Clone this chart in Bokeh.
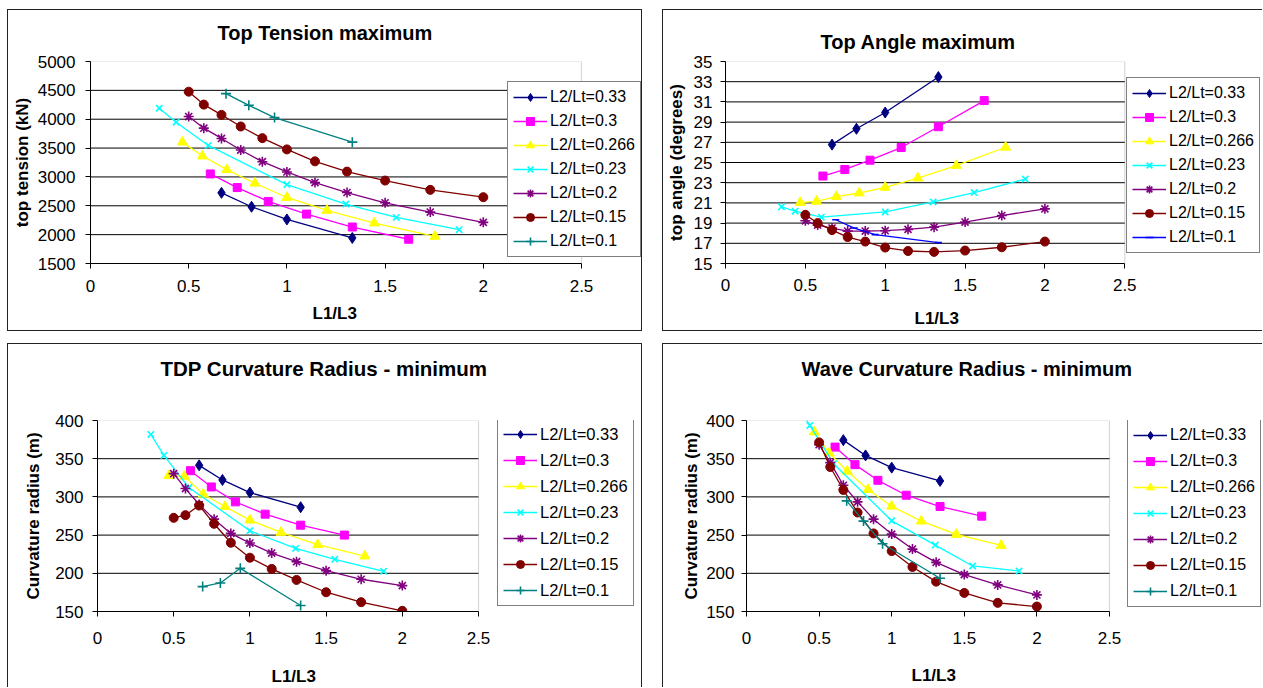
from bokeh.plotting import figure
from bokeh.layouts import row, column
from bokeh.models import (Legend, LegendItem, FixedTicker, NumeralTickFormatter,
                          Range1d, Title, Spacer, BoxAnnotation)
from bokeh.embed import file_html
from bokeh.resources import INLINE

FONT = "Liberation Sans"

# ---------------- data ----------------
series_labels = ["L2/Lt=0.33", "L2/Lt=0.3", "L2/Lt=0.266", "L2/Lt=0.23",
                 "L2/Lt=0.2", "L2/Lt=0.15", "L2/Lt=0.1"]

# L1/L3 values per series
x_033 = [0.667, 0.82, 1.0, 1.333]
x_03 = [0.61, 0.747, 0.905, 1.1, 1.333, 1.62]
x_0266 = [0.468, 0.57, 0.694, 0.837, 1.0, 1.204, 1.445, 1.754]
x_023 = [0.35, 0.436, 0.6, 1.0, 1.3, 1.557, 1.877]
x_02 = [0.5, 0.577, 0.667, 0.765, 0.875, 1.0, 1.143, 1.306, 1.5, 1.73, 2.0]
x_015 = [0.5, 0.577, 0.667, 0.765, 0.875, 1.0, 1.143, 1.306, 1.5, 1.73, 2.0]
x_01 = [0.69, 0.806, 0.937, 1.333]

# Top Tension maximum (kN)
t_033 = [2724, 2483, 2264, 1943]
t_03 = [3052, 2816, 2575, 2356, 2132, 1920]
t_0266 = [3603, 3362, 3126, 2891, 2644, 2420, 2201, 1971]
t_023 = [4190, 3948, 3546, 2868, 2529, 2299, 2086]
t_02 = [4046, 3845, 3667, 3466, 3264, 3086, 2902, 2730, 2552, 2391, 2213]
t_015 = [4477, 4253, 4075, 3874, 3672, 3477, 3270, 3092, 2937, 2776, 2649]
t_01 = [4443, 4241, 4029, 3603]

# Top Angle maximum (degrees)
a_033 = [26.77, 28.34, 29.95, 33.46]
a_03 = [23.66, 24.31, 25.23, 26.48, 28.54, 31.13]
a_0266 = [21.03, 21.16, 21.62, 21.98, 22.54, 23.46, 24.70, 26.51]
a_023 = [20.61, 20.18, 19.59, 20.11, 21.1, 22.02, 23.36]
a_02 = [19.23, 18.8, 18.51, 18.21, 18.21, 18.25, 18.38, 18.6, 19.1, 19.75, 20.41]
a_015 = [19.82, 19.0, 18.31, 17.62, 17.17, 16.58, 16.24, 16.15, 16.28, 16.61, 17.17]
a_01 = [19.33, 18.51, 17.86, 17.07]

# TDP Curvature Radius - minimum (m)
d_033 = [341.3, 322.2, 305.7, 286.5]
d_03 = [334.3, 313.0, 293.5, 277.4, 263.0, 250.0]
d_0266 = [327.8, 327.0, 303.5, 287.4, 269.6, 253.5, 237.4, 222.6]
d_023 = [381.7, 354.3, 312.2, 255.7, 232.6, 218.3, 202.6]
d_02 = [330.4, 310.9, 290.0, 270.9, 252.2, 239.6, 226.5, 215.2, 203.5, 192.2, 183.9]
d_015 = [272.6, 276.1, 288.7, 264.8, 240.0, 220.4, 205.7, 191.3, 175.2, 162.2, 150.9]
d_01 = [182.6, 187.4, 206.5, 157.8]

# Wave Curvature Radius - minimum (m)
w_033 = [374.3, 354.3, 338.3, 320.9]
w_03 = [365.2, 342.2, 321.7, 302.2, 287.4, 274.8]
w_0266 = [384.8, 357.4, 333.5, 309.6, 287.8, 268.3, 250.9, 236.5]
w_023 = [422.0, 393.5, 343.5, 268.7, 236.9, 209.6, 203.0]
w_02 = [368.3, 344.8, 315.2, 293.5, 270.9, 251.3, 231.7, 214.3, 198.3, 184.8, 171.7]
w_015 = [371.3, 339.1, 309.1, 279.6, 252.2, 229.1, 208.3, 189.1, 174.3, 161.3, 156.5]
w_01 = [294.8, 268.3, 238.7, 193.5]

x_ticks = [0, 0.5, 1, 1.5, 2, 2.5]
tension_ticks = [1500, 2000, 2500, 3000, 3500, 4000, 4500, 5000]
angle_ticks = [15, 17, 19, 21, 23, 25, 27, 29, 31, 33, 35]
radius_ticks = [150, 200, 250, 300, 350, 400]
x_label = "L1/L3"

xs_all = [x_033, x_03, x_0266, x_023, x_02, x_015, x_01]

# ---------------- styles ----------------
colors = ["#000080", "#FF00FF", "#FFFF00", "#00FFFF", "#800080", "#800000", "#008080"]
markers = ["diamond", "square", "triangle", "x", "asterisk", "circle", "cross"]
msizes = [11, 8, 10, 9, 10, 9, 10]
filled = [True, True, True, False, False, True, False]


def make_panel(title, ylabel, ys_list, yticks, width, height, left, top, bottom,
               area_w, title_cfg, xcfg, ycfg, legend_cfg,
               colors_, markers_, msizes_, borders):
    right = 2
    frame_w = width - left - right
    # the frame is widened past the last x tick so the legend (drawn inside it)
    # can sit to the right of the plotted area
    x_end = x_ticks[-1] * frame_w / area_w
    p = figure(width=width, height=height, output_backend="svg",
               toolbar_location=None,
               x_range=Range1d(x_ticks[0], x_end),
               y_range=Range1d(yticks[0], yticks[-1]),
               min_border_left=left, min_border_right=right,
               min_border_top=top, min_border_bottom=bottom)
    p.background_fill_color = "white"
    p.border_fill_color = "white"
    p.outline_line_color = None

    # title (spacer between frame and title pushes it upward)
    if title_cfg[2] is not None:
        p.add_layout(Title(text=" ", text_font_size="1px", standoff=title_cfg[2]), "above")
    p.title.text = title
    p.title.text_font = FONT
    p.title.text_font_size = title_cfg[3]
    p.title.text_font_style = "bold"
    p.title.text_color = "black"
    p.title.align = "left"
    p.title.offset = title_cfg[0]
    p.title.standoff = title_cfg[1]

    p.xaxis.ticker = FixedTicker(ticks=x_ticks)
    p.yaxis.ticker = FixedTicker(ticks=yticks)
    p.xaxis.bounds = (x_ticks[0], x_ticks[-1])
    p.xaxis.formatter = NumeralTickFormatter(format="0.[0]")
    p.xgrid.visible = False
    p.ygrid.visible = False

    # horizontal gridlines limited to the plotted area
    inner = yticks[1:-1]
    p.segment(x0=[x_ticks[0]] * len(inner), x1=[x_ticks[-1]] * len(inner),
              y0=inner, y1=inner, line_color="black", line_width=1)
    # plot-area border (grey)
    p.add_layout(BoxAnnotation(left=x_ticks[0], right=x_ticks[-1],
                               bottom=yticks[0], top=yticks[-1],
                               fill_alpha=0, line_color="#808080", line_width=1.2,
                               level="underlay"))

    for ax, cfg in ((p.xaxis, xcfg), (p.yaxis, ycfg)):
        ax.axis_label_text_font = FONT
        ax.axis_label_text_font_size = "17px"
        ax.axis_label_text_font_style = "bold"
        ax.axis_label_text_color = "black"
        ax.major_label_text_font = FONT
        ax.major_label_text_font_size = "17px"
        ax.major_label_text_color = "black"
        ax.axis_line_color = "black"
        ax.axis_line_width = 1
        ax.major_tick_line_color = "black"
        ax.major_tick_out = 5
        ax.major_tick_in = 0
        ax.minor_tick_out = 0
        ax.minor_tick_in = 0
        ax.major_label_standoff = cfg[0]
        ax.axis_label_standoff = cfg[1]
    p.yaxis.axis_label = ylabel
    p.xaxis.axis_label = None

    # x-axis title, centred on the plotted area (not on the widened frame)
    p.add_layout(Title(text=" ", text_font_size="1px", standoff=xcfg[1]), "below")
    p.add_layout(Title(text=x_label, text_font=FONT, text_font_size="17px",
                       text_font_style="bold", text_color="black", align="left",
                       offset=xcfg[2], standoff=0, vertical_align="bottom"), "below")

    items = []
    for i, (xs, ys) in enumerate(zip(xs_all, ys_list)):
        c = colors_[i]
        lr = p.line(xs, ys, line_color=c, line_width=1.3)
        if filled[i]:
            sr = p.scatter(xs, ys, marker=markers_[i], size=msizes_[i],
                           fill_color=c, line_color=c, line_width=1)
        else:
            sr = p.scatter(xs, ys, marker=markers_[i], size=msizes_[i],
                           fill_color=None, line_color=c, line_width=1.6)
        items.append(LegendItem(label=series_labels[i], renderers=[lr, sr]))

    leg = Legend(items=items, location=legend_cfg[0])
    leg.border_line_color = "black"
    leg.border_line_width = 1
    leg.background_fill_color = "white"
    leg.background_fill_alpha = 1
    leg.label_text_font = FONT
    leg.label_text_font_size = legend_cfg[2]
    leg.label_text_color = "black"
    leg.glyph_width = 34
    leg.glyph_height = 20
    leg.label_height = 20
    leg.label_standoff = 3
    leg.spacing = legend_cfg[1]
    leg.padding = 5
    leg.margin = 0
    p.add_layout(leg, "center")

    st = {"box-sizing": "border-box"}
    for side in borders:
        st["border-" + side] = "1.5px solid #222"
    p.styles = st
    return p


p1 = make_panel("Top Tension maximum", "top tension (kN)",
                [t_033, t_03, t_0266, t_023, t_02, t_015, t_01], tension_ticks,
                635, 322, 82, 50, 69, 491, (127, 0, 15, "20px"), (11, 4, 222), (10, 3),
                ((417, 6), 4, "16px"), colors, markers, msizes,
                ["left", "top", "right", "bottom"])

colors_tr = colors[:6] + ["#0000FF"]
markers_tr = markers[:6] + ["dash"]
msizes_tr = msizes[:6] + [7]
p2 = make_panel("Top Angle maximum", "top angle (degrees)",
                [a_033, a_03, a_0266, a_023, a_02, a_015, a_01], angle_ticks,
                600, 322, 61, 51, 68, 400, (95, 17, None, "20px"), (10, 10, 189), (8, 5),
                ((401, 10), 4, "16px"), colors_tr, markers_tr, msizes_tr,
                ["left", "top", "bottom"])

p3 = make_panel("TDP Curvature Radius - minimum", "Curvature radius (m)",
                [d_033, d_03, d_0266, d_023, d_02, d_015, d_01], radius_ticks,
                635, 344, 89, 76, 76, 381, (63, 0, 38, "20.5px"), (15, 15, 174), (9, 9),
                ((400, 5), 6, "16.5px"), colors, markers, msizes,
                ["left", "top", "right"])

p4 = make_panel("Wave Curvature Radius - minimum", "Curvature radius (m)",
                [w_033, w_03, w_0266, w_023, w_02, w_015, w_01], radius_ticks,
                600, 344, 83, 75, 77, 363, (55, 0, 38, "20px"), (15, 14, 165), (7, 2),
                ((381, 4), 6, "16px"), colors, markers, msizes,
                ["left", "top"])

top_row = row(Spacer(width=7, height=322), p1, Spacer(width=20, height=322), p2, spacing=0)
bottom_row = row(Spacer(width=7, height=344), p3, Spacer(width=20, height=344), p4, spacing=0)
layout = column(Spacer(width=10, height=9), top_row, Spacer(width=10, height=12), bottom_row,
                spacing=0)

open("out.html", "w").write(file_html(layout, INLINE))
